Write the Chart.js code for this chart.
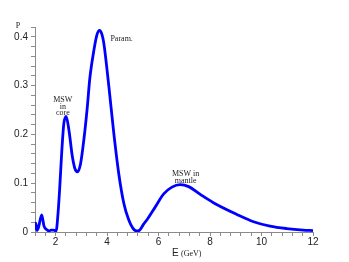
<!DOCTYPE html>
<html>
<head>
<meta charset="utf-8">
<script src="https://cdn.jsdelivr.net/npm/chart.js@4"></script>
<style>
  html, body { margin: 0; padding: 0; background: #fff; }
  #wrap { width: 349px; height: 262px; }
</style>
</head>
<body>
<div id="wrap"><canvas id="probChart" width="349" height="262"></canvas></div>
<script>
// energies (GeV) and probability
const energies = [1.2, 1.23, 1.28, 1.34, 1.46, 1.55, 1.65, 1.75, 1.82, 1.92, 2.02,
    2.09, 2.16, 2.24, 2.32, 2.41, 2.52, 2.65, 2.75, 2.85, 2.97, 3.1, 3.23, 3.33, 3.48,
    3.6, 3.71, 3.8, 3.87, 4.07, 4.26, 4.45, 4.65, 4.84, 5.0, 5.15, 5.25, 5.42,
    5.55, 5.88, 6.2, 6.52, 6.84, 7.17, 7.62, 8.13, 9.04, 9.69, 10.33, 10.98,
    11.62, 12.0];
const probability = [0.004, 0.018, 0.003, 0.01, 0.035, 0.012, 0.005, 0.002, 0.004, 0.004, 0.002,
    0.035, 0.09, 0.165, 0.222, 0.237, 0.208, 0.155, 0.13, 0.123, 0.14, 0.19, 0.255, 0.315, 0.37,
    0.403, 0.413, 0.405, 0.388, 0.298, 0.203, 0.121, 0.059, 0.025, 0.008, 0.002, 0.003, 0.016,
    0.025, 0.052, 0.078, 0.092, 0.097, 0.093, 0.077, 0.06, 0.036, 0.021, 0.012, 0.007,
    0.004, 0.003];

const xLabels = [2, 4, 6, 8, 10, 12];
const yLabels = [0, 0.1, 0.2, 0.3, 0.4];

const axisGray = '#8a8a8a';
const textColor = '#222';
const serif = '"Liberation Serif", "DejaVu Serif", serif';
const sans = '"Liberation Sans", Arial, sans-serif';

function isLabel(list, v) {
    return list.some(l => Math.abs(l - v) < 1e-6);
}

// text notes drawn at data coordinates
const notes = [
    { lines: ['MSW', 'in', 'core'], e: 2.28, p: 0.27, align: 'center' },
    { lines: ['Param.'], e: 4.13, p: 0.396, align: 'left' },
    { lines: ['MSW in', 'mantle'], e: 7.05, p: 0.118, align: 'center' }
];

const textPlugin = {
    id: 'textPlugin',
    afterDraw(chart) {
        const ctx = chart.ctx;
        const xs = chart.scales.x;
        const ys = chart.scales.y;
        ctx.save();
        ctx.fillStyle = textColor;
        ctx.textBaseline = 'middle';
        ctx.font = '8px ' + serif;
        notes.forEach(n => {
            const px = xs.getPixelForValue(n.e);
            const py = ys.getPixelForValue(n.p);
            ctx.textAlign = n.align;
            n.lines.forEach((line, i) => {
                ctx.fillText(line, px, py + i * 6.5);
            });
        });

        // y axis name at the top
        ctx.textAlign = 'center';
        ctx.fillText('P', 18, ys.top - 1);

        // x axis name: "E" plus smaller "(GeV)"
        const cx = (xs.left + xs.right) / 2 + 14;
        ctx.textAlign = 'left';
        ctx.font = '10px ' + sans;
        ctx.fillText('E', cx - 16, 253);
        ctx.font = '8px ' + serif;
        ctx.fillText('(GeV)', cx - 7, 253.5);
        ctx.restore();
    }
};

const ctx = document.getElementById('probChart').getContext('2d');
new Chart(ctx, {
    type: 'line',
    data: {
        datasets: [{
            data: energies.map((e, i) => ({ x: e, y: probability[i] })),
            borderColor: '#0000ff',
            borderWidth: 2.8,
            pointRadius: 0,
            fill: false,
            cubicInterpolationMode: 'monotone'
        }]
    },
    options: {
        responsive: false,
        animation: false,
        events: [],
        layout: { padding: { left: 0, top: 27, right: 36, bottom: 0 } },
        plugins: { legend: { display: false }, tooltip: { enabled: false } },
        scales: {
            x: {
                type: 'linear',
                min: 1.2,
                max: 12,
                afterFit: s => { s.height = 30; },
                border: { color: axisGray, width: 1 },
                grid: { drawOnChartArea: false, drawTicks: true, tickLength: 4, color: axisGray },
                ticks: {
                    stepSize: 0.4,
                    maxTicksLimit: 100,
                    autoSkip: false,
                    maxRotation: 0,
                    padding: 0,
                    color: textColor,
                    font: { family: sans, size: 10 },
                    callback: v => isLabel(xLabels, v) ? String(Math.round(v)) : ''
                }
            },
            y: {
                type: 'linear',
                min: 0,
                max: 0.42,
                afterFit: s => { s.width = 35; },
                border: { color: axisGray, width: 1 },
                grid: { drawOnChartArea: false, drawTicks: true, tickLength: 4, color: axisGray },
                ticks: {
                    stepSize: 0.02,
                    maxTicksLimit: 100,
                    autoSkip: false,
                    padding: 3,
                    color: textColor,
                    font: { family: sans, size: 10 },
                    callback: v => isLabel(yLabels, v) ? (Math.abs(v) < 1e-9 ? '0' : v.toFixed(1)) : ''
                }
            }
        }
    },
    plugins: [textPlugin]
});
</script>
</body>
</html>
